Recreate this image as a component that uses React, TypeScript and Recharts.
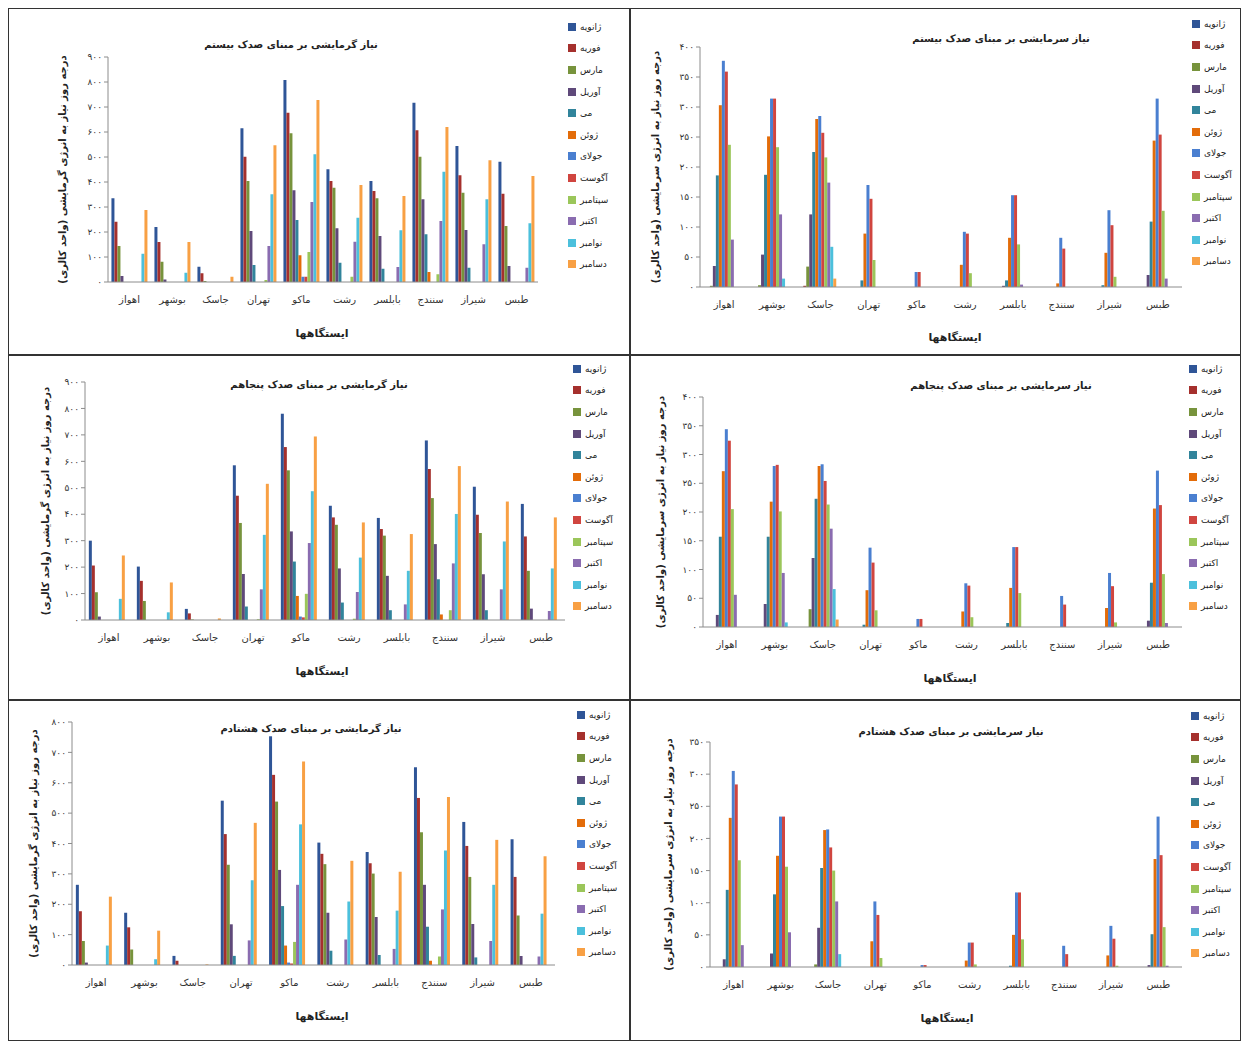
import { BarChart, Bar, XAxis, YAxis, Legend } from 'recharts';

// stations along the x axis, left to right
const stations = ['اهواز', 'بوشهر', 'جاسک', 'تهران', 'ماکو', 'رشت', 'بابلسر', 'سنندج', 'شیراز', 'طبس'];
const months = ['ژانویه', 'فوریه', 'مارس', 'آوریل', 'می', 'ژوئن', 'جولای', 'آگوست', 'سپتامبر', 'اکتبر', 'نوامبر', 'دسامبر'];
const monthColors = [
  '#2f5597', '#a5302d', '#77933c', '#5f497a', '#31849b', '#e36c09',
  '#4a7fd0', '#d0453f', '#9bc65a', '#8a6cb0', '#4cc0dc', '#f8a044',
];

// degree-days per station (rows) and month Jan..Dec (columns)
const heat20 = [
  [335, 241, 144, 24, 0, 0, 0, 0, 0, 0, 113, 288],
  [220, 160, 81, 10, 0, 0, 0, 0, 0, 0, 37, 160],
  [61, 35, 4, 0, 0, 0, 0, 0, 0, 0, 0, 21],
  [615, 501, 404, 204, 68, 0, 0, 0, 8, 144, 351, 547],
  [808, 677, 595, 367, 248, 107, 21, 21, 120, 320, 511, 728],
  [451, 404, 377, 215, 77, 0, 0, 0, 21, 161, 257, 388],
  [404, 364, 335, 184, 53, 0, 0, 0, 0, 60, 207, 344],
  [717, 607, 501, 331, 191, 40, 0, 0, 31, 244, 441, 620],
  [544, 427, 357, 208, 57, 0, 0, 0, 0, 151, 331, 487],
  [481, 353, 224, 64, 0, 0, 0, 0, 0, 57, 235, 424],
];
const cool20 = [
  [0, 0, 2, 35, 186, 303, 377, 359, 237, 79, 0, 0],
  [0, 0, 3, 54, 187, 251, 314, 314, 233, 121, 14, 0],
  [0, 2, 34, 121, 225, 280, 285, 257, 216, 174, 67, 14],
  [0, 0, 0, 0, 11, 89, 170, 147, 45, 0, 0, 0],
  [0, 0, 0, 0, 0, 0, 25, 25, 0, 0, 0, 0],
  [0, 0, 0, 0, 0, 37, 92, 89, 23, 0, 0, 0],
  [0, 0, 0, 2, 11, 82, 153, 153, 71, 4, 0, 0],
  [0, 0, 0, 0, 0, 6, 82, 64, 0, 0, 0, 0],
  [0, 0, 0, 0, 3, 57, 128, 103, 17, 0, 0, 0],
  [0, 0, 0, 20, 109, 244, 314, 254, 127, 14, 0, 0],
];
const heat50 = [
  [300, 206, 105, 13, 0, 0, 0, 0, 0, 0, 80, 244],
  [202, 148, 72, 0, 0, 0, 0, 0, 0, 0, 29, 142],
  [42, 25, 2, 0, 0, 0, 0, 0, 0, 0, 0, 6],
  [585, 470, 367, 174, 51, 0, 0, 0, 3, 116, 322, 515],
  [780, 654, 566, 335, 221, 91, 13, 10, 99, 291, 487, 694],
  [432, 388, 360, 195, 66, 0, 0, 0, 5, 106, 236, 369],
  [386, 344, 319, 167, 37, 0, 0, 0, 0, 59, 186, 325],
  [679, 571, 461, 287, 154, 21, 0, 0, 37, 214, 401, 582],
  [504, 398, 329, 173, 37, 0, 0, 0, 0, 116, 297, 448],
  [439, 316, 186, 43, 0, 0, 0, 0, 0, 34, 195, 388],
];
const cool50 = [
  [0, 0, 0, 21, 157, 271, 344, 324, 205, 56, 0, 0],
  [0, 0, 0, 40, 157, 218, 280, 282, 201, 94, 8, 0],
  [0, 0, 31, 120, 223, 280, 283, 254, 213, 171, 66, 13],
  [0, 0, 0, 0, 4, 64, 138, 112, 29, 0, 0, 0],
  [0, 0, 0, 0, 0, 0, 14, 14, 0, 0, 0, 0],
  [0, 0, 0, 0, 0, 27, 76, 72, 17, 0, 0, 0],
  [0, 0, 0, 0, 7, 68, 139, 139, 59, 0, 0, 0],
  [0, 0, 0, 0, 0, 0, 54, 39, 0, 0, 0, 0],
  [0, 0, 0, 0, 0, 33, 94, 71, 8, 0, 0, 0],
  [0, 0, 0, 11, 77, 206, 272, 212, 92, 7, 0, 0],
];
const heat80 = [
  [264, 177, 79, 8, 0, 0, 0, 0, 0, 0, 64, 225],
  [172, 124, 51, 0, 0, 0, 0, 0, 0, 0, 19, 113],
  [30, 14, 0, 0, 0, 0, 0, 0, 0, 0, 0, 2],
  [541, 431, 330, 134, 30, 0, 0, 0, 0, 81, 279, 468],
  [753, 626, 538, 313, 194, 64, 8, 5, 76, 264, 463, 670],
  [403, 366, 332, 172, 47, 0, 0, 0, 0, 84, 209, 343],
  [372, 335, 301, 158, 33, 0, 0, 0, 0, 53, 179, 307],
  [651, 550, 437, 264, 126, 14, 0, 0, 28, 183, 377, 553],
  [471, 392, 290, 135, 25, 0, 0, 0, 0, 79, 264, 412],
  [414, 290, 163, 30, 0, 0, 0, 0, 0, 28, 169, 358],
];
const cool80 = [
  [0, 0, 0, 12, 120, 232, 305, 284, 166, 34, 0, 0],
  [0, 0, 0, 21, 113, 173, 234, 234, 156, 54, 0, 0],
  [0, 0, 4, 61, 154, 213, 214, 186, 150, 102, 20, 0],
  [0, 0, 0, 0, 0, 40, 102, 81, 14, 0, 0, 0],
  [0, 0, 0, 0, 0, 0, 3, 3, 0, 0, 0, 0],
  [0, 0, 0, 0, 0, 10, 38, 38, 4, 0, 0, 0],
  [0, 0, 0, 0, 2, 50, 116, 116, 43, 0, 0, 0],
  [0, 0, 0, 0, 0, 0, 33, 20, 0, 0, 0, 0],
  [0, 0, 0, 0, 0, 18, 64, 44, 2, 0, 0, 0],
  [0, 0, 0, 3, 51, 168, 234, 174, 62, 2, 0, 0],
];

const ticks900 = [0, 100, 200, 300, 400, 500, 600, 700, 800, 900];
const ticks800 = [0, 100, 200, 300, 400, 500, 600, 700, 800];
const ticks400 = [0, 50, 100, 150, 200, 250, 300, 350, 400];
const ticks350 = [0, 50, 100, 150, 200, 250, 300, 350];

const heatLabel = 'درجه روز نیاز به انرژی گرمایشی (واحد کالری)';
const coolLabel = 'درجه روز نیاز به انرژی سرمایشی (واحد کالری)';
const xTitle = 'ایستگاهها';

const FONT = "'DejaVu Sans', sans-serif";
const YW = 34;
const XH = 30;

const toFa = (v: number | string) => String(v).replace(/\d/g, (d) => '۰۱۲۳۴۵۶۷۸۹'[+d]);

function buildRows(values: number[][]) {
  return stations.map((s, i) => {
    const row: Record<string, any> = { station: s };
    values[i].forEach((v, m) => (row['m' + m] = v));
    return row;
  });
}

// box: [left, top, width, height]; plot: [left, top, right, bottom] (page coords)
const panels = [
  { title: 'نیاز گرمایشی بر مبنای صدک بیستم', values: heat20, ticks: ticks900, yLabel: heatLabel,
    box: [8, 8, 622, 347], plot: [108, 57, 538, 282], titleAt: [290, 43], legendAt: [568, 16], yLabelX: 62, xTitleAt: [322, 333] },
  { title: 'نیاز سرمایشی بر مبنای صدک بیستم', values: cool20, ticks: ticks400, yLabel: coolLabel,
    box: [630, 8, 611, 347], plot: [700, 47, 1182, 287], titleAt: [1000, 37], legendAt: [1192, 13], yLabelX: 655, xTitleAt: [955, 337] },
  { title: 'نیاز گرمایشی بر مبنای صدک پنجاهم', values: heat50, ticks: ticks900, yLabel: heatLabel,
    box: [8, 355, 622, 345], plot: [85, 382, 565, 620], titleAt: [318, 383], legendAt: [573, 358], yLabelX: 45, xTitleAt: [322, 671] },
  { title: 'نیاز سرمایشی بر مبنای صدک پنجاهم', values: cool50, ticks: ticks400, yLabel: coolLabel,
    box: [630, 355, 611, 345], plot: [703, 397, 1182, 627], titleAt: [1000, 384], legendAt: [1189, 358], yLabelX: 660, xTitleAt: [950, 678] },
  { title: 'نیاز گرمایشی بر مبنای صدک هشتادم', values: heat80, ticks: ticks800, yLabel: heatLabel,
    box: [8, 700, 622, 341], plot: [72, 722, 555, 965], titleAt: [310, 727], legendAt: [577, 704], yLabelX: 33, xTitleAt: [322, 1016] },
  { title: 'نیاز سرمایشی بر مبنای صدک هشتادم', values: cool80, ticks: ticks350, yLabel: coolLabel,
    box: [630, 700, 611, 341], plot: [710, 742, 1182, 967], titleAt: [950, 730], legendAt: [1191, 705], yLabelX: 668, xTitleAt: [947, 1018] },
];

// legend keeps the month order (Jan at top), not alphabetical
const renderLegend = () => (
  <div style={{ fontFamily: FONT, fontSize: 9, color: '#222' }}>
    {months.map((m, i) => (
      <div key={m} style={{ display: 'flex', alignItems: 'center', height: 21.6 }}>
        <span style={{ width: 8, height: 8, background: monthColors[i], marginRight: 4, display: 'inline-block' }} />
        <span>{m}</span>
      </div>
    ))}
  </div>
);

function Panel({ cfg }: { cfg: (typeof panels)[number] }) {
  const [bx, by, bw, bh] = cfg.box;
  const [pl, pt, pr, pb] = cfg.plot;
  const data = buildRows(cfg.values);
  const margin = {
    top: pt - by,
    left: pl - bx - YW,
    right: bx + bw - pr,
    bottom: by + bh - pb - XH,
  };
  const yMax = cfg.ticks[cfg.ticks.length - 1];
  const ly = (pt + pb) / 2 - by;
  const lx = cfg.yLabelX - bx;

  return (
    <div
      style={{
        position: 'absolute', left: bx, top: by, width: bw, height: bh,
        boxSizing: 'border-box', border: '1px solid #333', background: '#fff',
      }}
    >
      <BarChart width={bw} height={bh} data={data} margin={margin} barCategoryGap="8%" barGap={0}
        style={{ position: 'absolute', left: -1, top: -1 }}>
        <XAxis
          dataKey="station" interval={0} height={XH} tickLine={false} tickMargin={8}
          axisLine={{ stroke: '#8c8c8c' }}
          tick={{ fontSize: 10, fill: '#333', fontFamily: FONT }}
          label={{
            content: () => (
              <text x={cfg.xTitleAt[0] - bx} y={cfg.xTitleAt[1] - by} textAnchor="middle" dominantBaseline="central"
                fontSize={11} fontWeight="bold" fill="#222" fontFamily={FONT}>{xTitle}</text>
            ),
          }}
        />
        <YAxis
          width={YW} domain={[0, yMax]} ticks={cfg.ticks} tickFormatter={toFa} tickSize={4}
          axisLine={{ stroke: '#8c8c8c' }} tickLine={{ stroke: '#8c8c8c' }}
          tick={{ fontSize: 9, fill: '#333', fontFamily: FONT }}
          label={{
            content: () => (
              <text x={lx} y={ly} transform={`rotate(-90 ${lx} ${ly})`} textAnchor="middle" dominantBaseline="central"
                fontSize={10} fontWeight="bold" fill="#222" fontFamily={FONT}>{cfg.yLabel}</text>
            ),
          }}
        />
        <Legend
          layout="vertical" align="center" verticalAlign="middle" content={renderLegend}
          wrapperStyle={{ left: cfg.legendAt[0] - bx, top: cfg.legendAt[1] - by, width: 48 }}
        />
        {months.map((m, i) => (
          <Bar key={m} dataKey={'m' + i} name={m} fill={monthColors[i]} isAnimationActive={false} />
        ))}
      </BarChart>
      <div
        style={{
          position: 'absolute', left: cfg.titleAt[0] - bx, top: cfg.titleAt[1] - by,
          transform: 'translate(-50%, -50%)', whiteSpace: 'nowrap', direction: 'rtl',
          fontFamily: FONT, fontSize: 10, fontWeight: 'bold', color: '#222',
        }}
      >
        {cfg.title}
      </div>
    </div>
  );
}

export default function App() {
  return (
    <div style={{ position: 'absolute', left: 0, top: 0, width: 1244, height: 1041, background: '#fff', overflow: 'hidden' }}>
      {panels.map((p) => (
        <Panel key={p.title} cfg={p} />
      ))}
    </div>
  );
}
